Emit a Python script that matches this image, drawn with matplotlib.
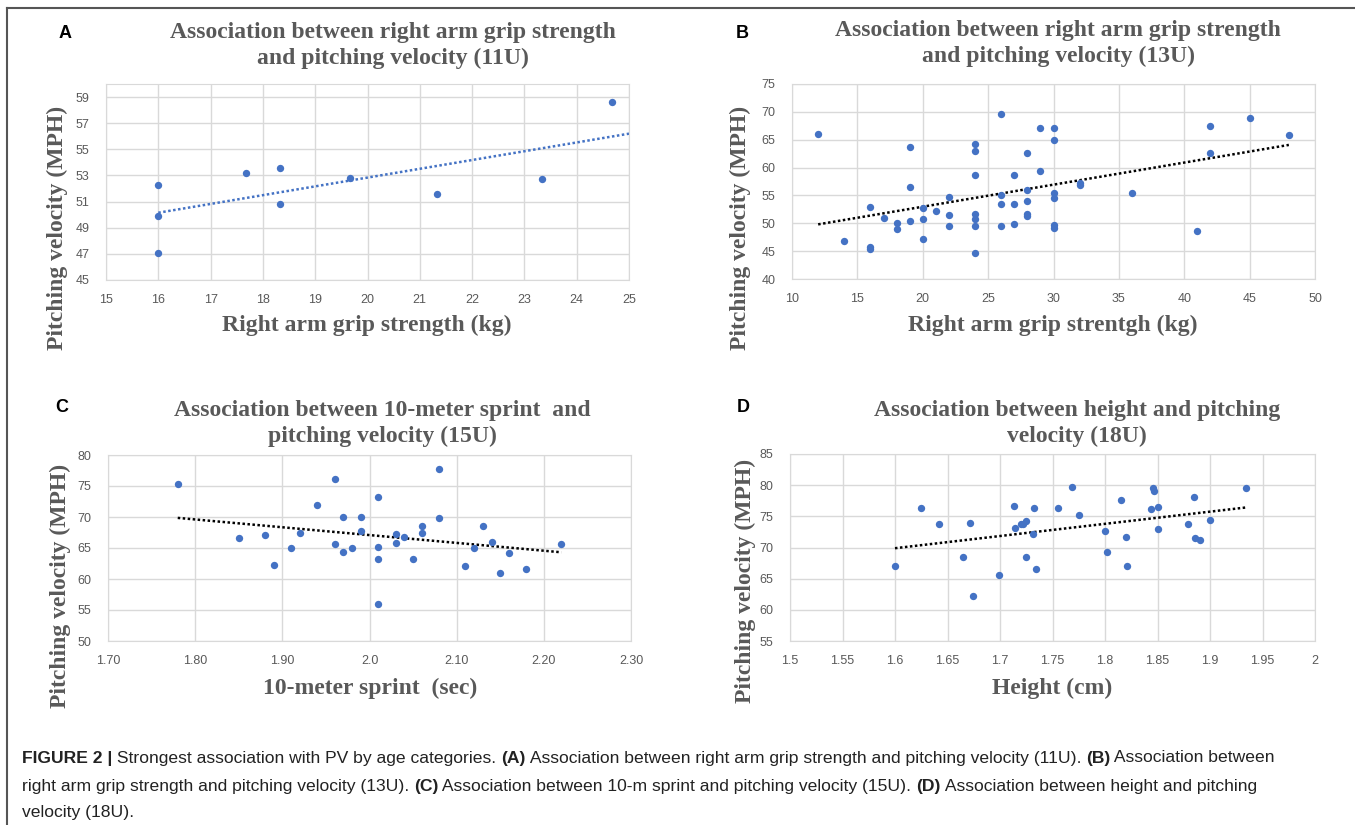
import numpy as np
import matplotlib
matplotlib.use("Agg")
import matplotlib.pyplot as plt

# ---- data ----
# A: 11U, right arm grip strength (kg) vs pitching velocity (MPH)
grip_11u = [16, 16, 16, 17.67, 18.33, 18.33, 19.67, 21.33, 23.33, 24.67]
pv_11u = [52.3, 49.9, 47.1, 53.2, 53.55, 50.8, 52.8, 51.6, 52.7, 58.6]

# B: 13U, right arm grip strength (kg) vs pitching velocity (MPH)
grip_13u = [12, 14, 16, 16, 16, 17, 18, 18, 19, 19, 19, 20, 20, 20, 21,
            22, 22, 22, 24, 24, 24, 24, 24, 24, 24, 26, 26, 26, 26,
            27, 27, 27, 28, 28, 28, 28, 28, 29, 29, 30, 30, 30, 30, 30, 30,
            32, 32, 36, 41, 42, 42, 45, 48]
pv_13u = [66.0, 46.8, 53.0, 45.7, 45.4, 51.0, 50.0, 49.0, 63.7, 56.6, 50.5,
          52.8, 50.8, 47.2, 52.2, 54.8, 51.4, 49.6, 64.2, 62.9, 58.7, 51.6,
          50.7, 49.6, 44.6, 69.6, 55.0, 53.4, 49.6, 58.7, 53.4, 49.8, 62.6,
          56.0, 54.0, 51.7, 51.3, 67.1, 59.4, 67.1, 65.0, 55.4, 54.6, 49.7,
          49.2, 57.3, 56.9, 55.4, 48.6, 67.4, 62.6, 68.9, 65.9]

# C: 15U, 10-meter sprint (sec) vs pitching velocity (MPH)
sprint_15u = [1.78, 1.85, 1.88, 1.89, 1.91, 1.92, 1.94, 1.96, 1.96, 1.97,
              1.97, 1.98, 1.99, 1.99, 2.01, 2.01, 2.01, 2.01, 2.03, 2.03,
              2.04, 2.05, 2.06, 2.06, 2.08, 2.08, 2.11, 2.12, 2.13, 2.14,
              2.15, 2.16, 2.18, 2.22]
pv_15u = [75.3, 66.6, 67.1, 62.3, 64.95, 67.5, 71.9, 76.1, 65.6, 69.95,
          64.4, 64.95, 69.95, 67.8, 73.2, 65.1, 63.2, 56.0, 67.3, 65.8,
          66.8, 63.3, 68.5, 67.4, 77.7, 69.8, 62.1, 64.95, 68.5, 65.9,
          61.0, 64.25, 61.6, 65.6]

# D: 18U, height vs pitching velocity (MPH)
height_18u = [1.600, 1.625, 1.642, 1.665, 1.671, 1.674, 1.699, 1.713, 1.714,
              1.720, 1.722, 1.725, 1.725, 1.731, 1.732, 1.734, 1.755, 1.769,
              1.775, 1.800, 1.802, 1.815, 1.820, 1.821, 1.844, 1.8455, 1.8466,
              1.850, 1.850, 1.879, 1.885, 1.886, 1.890, 1.900, 1.934]
pv_18u = [67.0, 76.3, 73.8, 68.4, 74.0, 62.2, 65.6, 76.7, 73.1, 73.8, 73.8,
          74.2, 68.4, 72.2, 76.3, 66.5, 76.3, 79.7, 75.2, 72.7, 69.3, 77.6,
          71.7, 67.0, 76.1, 79.55, 79.1, 76.5, 72.9, 73.8, 78.1, 71.5, 71.15,
          74.4, 79.55]

titles = [
    "Association between right arm grip strength\nand pitching velocity (11U)",
    "Association between right arm grip strength\nand pitching velocity (13U)",
    "Association between 10-meter sprint  and\npitching velocity (15U)",
    "Association between height and pitching\nvelocity (18U)",
]
xlabels = ["Right arm grip strength (kg)", "Right arm grip strentgh (kg)",
           "10-meter sprint  (sec)", "Height (cm)"]
letters = ["A", "B", "C", "D"]

xticks_a = [15, 16, 17, 18, 19, 20, 21, 22, 23, 24, 25]
yticks_a = [45, 47, 49, 51, 53, 55, 57, 59]
xticks_b = [10, 15, 20, 25, 30, 35, 40, 45, 50]
yticks_b = [40, 45, 50, 55, 60, 65, 70, 75]
xticks_c = [1.70, 1.80, 1.90, 2.00, 2.10, 2.20, 2.30]
xticklabels_c = ["1.70", "1.80", "1.90", "2.0", "2.10", "2.20", "2.30"]
yticks_c = [50, 55, 60, 65, 70, 75, 80]
xticks_d = [1.5, 1.55, 1.6, 1.65, 1.7, 1.75, 1.8, 1.85, 1.9, 1.95, 2]
xticklabels_d = ["1.5", "1.55", "1.6", "1.65", "1.7", "1.75", "1.8",
                 "1.85", "1.9", "1.95", "2"]
yticks_d = [55, 60, 65, 70, 75, 80, 85]

caption_lines = [
    [("FIGURE 2 |", True), (" Strongest association with PV by age categories. ", False),
     ("(A)", True), (" Association between right arm grip strength and pitching velocity (11U). ", False),
     ("(B)", True), (" Association between", False)],
    [("right arm grip strength and pitching velocity (13U). ", False), ("(C)", True),
     (" Association between 10-m sprint and pitching velocity (15U). ", False),
     ("(D)", True), (" Association between height and pitching", False)],
    [("velocity (18U).", False)],
]

W, H = 1355, 825
GRAY = "#595959"
GRID = "#D9D9D9"
BLUE = "#4472C4"
SERIF = "Liberation Serif"
TICKFONT = "Liberation Sans"
CAPSIZE = 12.6

fig = plt.figure(figsize=(W / 100, H / 100), dpi=100)


def fx(px):
    return px / W


def fy(py):
    return 1 - py / H


def make_axes(left, right, top, bottom):
    return fig.add_axes([fx(left), fy(bottom), (right - left) / W, (bottom - top) / H])


panels = [
    dict(x=grip_11u, y=pv_11u, box=(106, 629, 84, 280), xlim=(15, 25), ylim=(45, 60),
         xt=xticks_a, xtl=[str(v) for v in xticks_a], yt=yticks_a,
         trend=BLUE, to_edge=True,
         title_xy=(393, 32), letter_xy=(65, 33), ylab_xy=(57, 228), xlab_xy=(367, 325)),
    dict(x=grip_13u, y=pv_13u, box=(792, 1315, 84, 279), xlim=(10, 50), ylim=(40, 75),
         xt=xticks_b, xtl=[str(v) for v in xticks_b], yt=yticks_b,
         trend="black", to_edge=False,
         title_xy=(1058, 30), letter_xy=(742, 33), ylab_xy=(740, 228), xlab_xy=(1053, 325)),
    dict(x=sprint_15u, y=pv_15u, box=(108, 631, 455, 641), xlim=(1.70, 2.30), ylim=(50, 80),
         xt=xticks_c, xtl=xticklabels_c, yt=yticks_c,
         trend="black", to_edge=False,
         title_xy=(382, 410), letter_xy=(62, 407), ylab_xy=(60, 586), xlab_xy=(370, 688)),
    dict(x=height_18u, y=pv_18u, box=(790, 1315, 454, 641), xlim=(1.5, 2), ylim=(55, 85),
         xt=xticks_d, xtl=xticklabels_d, yt=yticks_d,
         trend="black", to_edge=False,
         title_xy=(1077, 410), letter_xy=(743, 407), ylab_xy=(745, 581), xlab_xy=(1052, 688)),
]

for i, p in enumerate(panels):
    ax = make_axes(*p["box"])
    x = np.array(p["x"])
    y = np.array(p["y"])
    ax.scatter(x, y, s=28, color=BLUE, zorder=3, linewidths=0)

    # linear trendline
    k, b = np.polyfit(x, y, 1)
    x_end = p["xlim"][1] if p["to_edge"] else x.max()
    xs = np.array([x.min(), x_end])
    ax.plot(xs, k * xs + b, color=p["trend"], lw=1.8, linestyle=(0, (1, 1)), zorder=2)

    ax.set_xlim(*p["xlim"])
    ax.set_ylim(*p["ylim"])
    ax.set_xticks(p["xt"])
    ax.set_xticklabels(p["xtl"])
    ax.set_yticks(p["yt"])
    ax.grid(True, color=GRID, lw=1)
    ax.set_axisbelow(True)
    for s in ax.spines.values():
        s.set_color(GRID)
    ax.tick_params(length=0, labelsize=9, labelcolor=GRAY)
    ax.tick_params(axis="y", pad=12)
    ax.tick_params(axis="x", pad=10)
    for lab in ax.get_xticklabels() + ax.get_yticklabels():
        lab.set_family(TICKFONT)

    tx, ty = p["title_xy"]
    fig.text(fx(tx), fy(ty + 13.5), titles[i], ha="center", va="center", family=SERIF,
             weight="bold", size=17, color=GRAY, linespacing=1.35)
    lx, ly = p["letter_xy"]
    fig.text(fx(lx), fy(ly), letters[i], ha="center", va="center",
             family="Liberation Sans", weight="bold", size=13, color="black")
    yx, yy = p["ylab_xy"]
    fig.text(fx(yx), fy(yy), "Pitching velocity (MPH)", rotation=90, ha="center",
             va="center", family=SERIF, weight="bold", size=17, color=GRAY)
    xx, xy = p["xlab_xy"]
    fig.text(fx(xx), fy(xy), xlabels[i], ha="center", va="center", family=SERIF,
             weight="bold", size=17, color=GRAY)

# frame lines (top and left)
fig.add_artist(plt.Line2D([fx(7), 1], [fy(8), fy(8)], color="#555555", lw=1.5))
fig.add_artist(plt.Line2D([fx(7), fx(7)], [fy(8), 0], color="#555555", lw=1.5))

# caption with mixed bold runs
renderer = fig.canvas.get_renderer()


def text_width(s, bold):
    w8 = "bold" if bold else "normal"
    t1 = fig.text(0, 0, "|" + s + "|", size=CAPSIZE, family="Liberation Sans", weight=w8)
    t2 = fig.text(0, 0, "||", size=CAPSIZE, family="Liberation Sans", weight=w8)
    w = t1.get_window_extent(renderer).width - t2.get_window_extent(renderer).width
    t1.remove()
    t2.remove()
    return w


line_y = [758, 786, 813]
for parts, py in zip(caption_lines, line_y):
    cx = 22
    for s, bold in parts:
        fig.text(fx(cx), fy(py), s, size=CAPSIZE, family="Liberation Sans",
                 weight="bold" if bold else "normal", color="#222222",
                 ha="left", va="center")
        cx += text_width(s, bold)

fig.savefig("out.png", dpi=100)
